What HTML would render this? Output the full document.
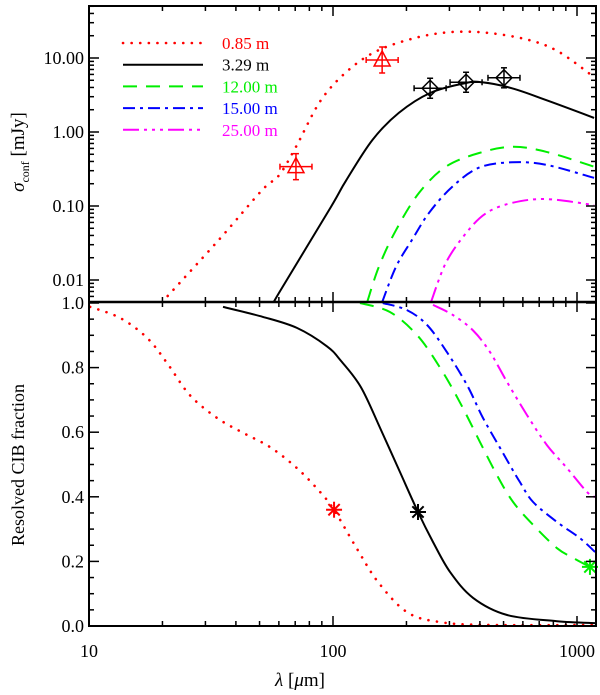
<!DOCTYPE html>
<html><head><meta charset="utf-8"><style>
body{margin:0;background:#fff}
svg{display:block;font-family:"Liberation Serif",serif}
</style></head><body>
<svg id="chart" width="600" height="695" viewBox="0 0 600 695" xmlns="http://www.w3.org/2000/svg">
<defs>
<clipPath id="clipTop"><rect x="89" y="6" width="507" height="296"/></clipPath>
<clipPath id="clipBot"><rect x="89" y="302" width="507" height="324"/></clipPath>
</defs>
<g id="gTop"></g>
<g id="gBot"></g>
<g id="gAxes"></g>
<g id="legend"></g>
<text x="300" y="686" font-size="19" text-anchor="middle"><tspan font-style="italic">λ</tspan> [<tspan font-style="italic">μ</tspan>m]</text>
<text transform="translate(24,152) rotate(-90)" font-size="19" text-anchor="middle"><tspan font-style="italic">σ</tspan><tspan font-size="12" dy="5">conf</tspan><tspan dy="-5"> [mJy]</tspan></text>
<text transform="translate(24,465) rotate(-90)" font-size="18" text-anchor="middle">Resolved CIB fraction</text>
</svg>
<script>
// ---- data ----
const seriesLabels = ["0.85 m","3.29 m","12.00 m","15.00 m","25.00 m"];
const seriesColors = ["#ff0000","#000000","#00ee00","#0000ff","#ff00ff"];
const seriesDash = ["0.1 8.5","","14 9","12 5 3 5","16 5 3 5 3 5 3 5"];
// top panel: sigma_conf [mJy]
const redTopL = [19.9,34.1,51.2,60.1,70.5,89.3,116,154,225,313,436,635,844,1185];
const redTopV = [0.005,0.035,0.164,0.26,0.63,2.7,6.9,12.8,19.2,22.5,21.8,17.5,12.1,5.4];
const blackTopL = [57.3,60.1,98,113,145,186,250,351,408,542,747,1175];
const blackTopV = [0.005,0.0067,0.097,0.22,0.78,1.81,3.37,4.6,4.7,3.9,2.7,1.55];
const greenTopL = [138,154,181,225,290,397,542,747,1175];
const greenTopV = [0.005,0.015,0.047,0.15,0.34,0.52,0.63,0.54,0.34];
const blueTopL = [159,181,211,247,307,397,542,747,1175];
const blueTopV = [0.005,0.015,0.035,0.080,0.18,0.33,0.39,0.36,0.24];
const magTopL = [252,290,351,424,542,747,1175];
const magTopV = [0.005,0.017,0.043,0.080,0.11,0.124,0.103];
// measurements
const triL = [70.5,159];
const triV = [0.34,9.4];
const diaL = [250,351,502];
const diaV = [3.9,4.7,5.4];
// bottom panel: resolved fraction
const redBotL = [10.1,13.4,17.3,20.9,25.9,33.5,42.8,55.2,71.1,88.5,101,125,153,201,275,440,1185];
const redBotF = [0.988,0.954,0.892,0.814,0.715,0.644,0.598,0.554,0.489,0.415,0.359,0.241,0.136,0.043,0.012,0.003,0.003];
const blackBotL = [35.4,51.6,71.1,94.4,108,130,156,188,223,257,302,375,517,828,1186];
const blackBotF = [0.988,0.957,0.923,0.866,0.820,0.740,0.613,0.477,0.353,0.260,0.167,0.087,0.034,0.015,0.009];
const greenBotL = [129,171,221,275,331,400,470,547,661,828,963,1130];
const greenBotF = [1.0,0.972,0.901,0.799,0.693,0.570,0.467,0.384,0.313,0.241,0.211,0.183];
const blueBotL = [160,201,243,293,354,412,484,583,661,828,1028,1186];
const blueBotF = [1.0,0.978,0.932,0.848,0.746,0.644,0.551,0.446,0.384,0.322,0.272,0.229];
const magBotL = [257,310,375,440,517,624,753,910,1099,1186];
const magBotF = [0.994,0.963,0.915,0.848,0.755,0.653,0.560,0.489,0.415,0.399];
const starL = [101,223,1130];
const starF = [0.36,0.353,0.183];
const starColors = ["#ff0000","#000000","#00ee00"];
const topTicks = [0.01,0.1,1,10];
const topTickLabels = ["0.01","0.10","1.00","10.00"];
const botTicks = [0,0.2,0.4,0.6,0.8,1.0];
const botTickLabels = ["0.0","0.2","0.4","0.6","0.8","1.0"];
const xTicks = [10,100,1000];
const xTickLabels = ["10","100","1000"];

// ---- scales ----
const L=89,R=596,T1=6,B1=302,T2=302,B2=626;
const X = l => L + 244*Math.log10(l/10);
const YT = v => 132 - 74*Math.log10(v);
const YB = f => 626 - 323*f;
const NS="http://www.w3.org/2000/svg";
function mk(tag, attrs, parent){const e=document.createElementNS(NS,tag);for(const k in attrs)e.setAttribute(k,attrs[k]);parent.appendChild(e);return e;}
function smooth(pts){
  let d="M"+pts[0][0].toFixed(1)+","+pts[0][1].toFixed(1);
  for(let i=0;i<pts.length-1;i++){
    const p0=pts[Math.max(i-1,0)],p1=pts[i],p2=pts[i+1],p3=pts[Math.min(i+2,pts.length-1)];
    const c1=[p1[0]+(p2[0]-p0[0])/6,p1[1]+(p2[1]-p0[1])/6];
    const c2=[p2[0]-(p3[0]-p1[0])/6,p2[1]-(p3[1]-p1[1])/6];
    d+=" C"+c1.map(v=>v.toFixed(1))+" "+c2.map(v=>v.toFixed(1))+" "+p2[0].toFixed(1)+","+p2[1].toFixed(1);
  }
  return d;
}
const gTop=document.getElementById('gTop'), gBot=document.getElementById('gBot'), gAx=document.getElementById('gAxes'), gLeg=document.getElementById('legend');
const cTop=mk('g',{'clip-path':'url(#clipTop)'},gTop);
const cBot=mk('g',{'clip-path':'url(#clipBot)'},gBot);
const topSets=[[redTopL,redTopV],[blackTopL,blackTopV],[greenTopL,greenTopV],[blueTopL,blueTopV],[magTopL,magTopV]];
const botSets=[[redBotL,redBotF],[blackBotL,blackBotF],[greenBotL,greenBotF],[blueBotL,blueBotF],[magBotL,magBotF]];
const names=["red","black","green","blue","magenta"];
function style(i){return {fill:'none',stroke:seriesColors[i],'stroke-width':i==0?2.6:2,'stroke-dasharray':seriesDash[i],'stroke-linecap':i==0?'round':'butt'};}
topSets.forEach((s,i)=>{
  const a=style(i); a.d=smooth(s[0].map((l,j)=>[X(l),YT(s[1][j])]));
  const p=mk('path',a,cTop);
  
  
});
botSets.forEach((s,i)=>{
  const a=style(i); a.d=smooth(s[0].map((l,j)=>[X(l),YB(s[1][j])]));
  const p=mk('path',a,cBot);
  
  
});
function errbar(x,y,dx,dyU,dyD,col,parent){
  mk('line',{x1:x-dx,y1:y,x2:x+dx,y2:y,stroke:col,'stroke-width':1.5},parent);
  mk('line',{x1:x-dx,y1:y-3,x2:x-dx,y2:y+3,stroke:col,'stroke-width':1.5},parent);
  mk('line',{x1:x+dx,y1:y-3,x2:x+dx,y2:y+3,stroke:col,'stroke-width':1.5},parent);
  mk('line',{x1:x,y1:y-dyU,x2:x,y2:y+dyD,stroke:col,'stroke-width':1.5},parent);
  mk('line',{x1:x-3,y1:y-dyU,x2:x+3,y2:y-dyU,stroke:col,'stroke-width':1.5},parent);
  mk('line',{x1:x-3,y1:y+dyD,x2:x+3,y2:y+dyD,stroke:col,'stroke-width':1.5},parent);
}
triL.forEach((l,i)=>{
  const x=X(l),y=YT(triV[i]);
  const g=mk('g',{},gTop);
  
  
  errbar(x,y,16,13,13,'#ff0000',g);
  mk('polygon',{points:`${x},${y-9} ${x-8},${y+6} ${x+8},${y+6}`,fill:'none',stroke:'#ff0000','stroke-width':1.5},g);
});
diaL.forEach((l,i)=>{
  const x=X(l),y=YT(diaV[i]);
  const g=mk('g',{},gTop);
  
  
  errbar(x,y,16,10,10,'#000000',g);
  mk('polygon',{points:`${x},${y-8} ${x+8},${y} ${x},${y+8} ${x-8},${y}`,fill:'none',stroke:'#000','stroke-width':1.5},g);
});
starL.forEach((l,i)=>{
  const x=X(l),y=YB(starF[i]);
  const g=mk('g',{stroke:starColors[i],'stroke-width':2},gBot);
  
  
  for(let a=0;a<180;a+=45){const r=a*Math.PI/180;mk('line',{x1:x-8*Math.cos(r),y1:y-8*Math.sin(r),x2:x+8*Math.cos(r),y2:y+8*Math.sin(r)},g);}
});
mk('rect',{x:L,y:T1,width:R-L,height:B2-T1,fill:'none',stroke:'#000','stroke-width':2},gAx);
mk('line',{x1:L,y1:B1,x2:R,y2:B1,stroke:'#000','stroke-width':2.5},gAx);
const tk=(x1,y1,x2,y2)=>mk('line',{x1,y1,x2,y2,stroke:'#000','stroke-width':1.5},gAx);
for(let dec=10;dec<=1000;dec*=10){for(let m=1;m<10;m++){const l=dec*m;if(l>1200)break;const x=X(l);const len=m==1?10:5;
  tk(x,T1,x,T1+len);tk(x,B1,x,B1-len);tk(x,B1,x,B1+len);tk(x,B2,x,B2-len);}}
xTicks.forEach((l,i)=>{const t=mk('text',{x:X(l),y:657,'font-size':18,'text-anchor':'middle'},gAx);t.textContent=xTickLabels[i];
  
  });
for(let dec=0.001;dec<=10;dec*=10){for(let m=1;m<10;m++){const v=dec*m;const y=YT(v);if(y<T1||y>B1)continue;const len=m==1?10:5;tk(L,y,L+len,y);tk(R,y,R-len,y);}}
topTicks.forEach((v,i)=>{const t=mk('text',{x:84,y:YT(v)+6,'font-size':18,'text-anchor':'end'},gAx);t.textContent=topTickLabels[i];
  
  });
for(let k=0;k<=20;k++){const f=k*0.05;const y=YB(f);const len=k%4==0?10:5;tk(L,y,L+len,y);tk(R,y,R-len,y);}
botTicks.forEach((v,i)=>{const t=mk('text',{x:84,y:YB(v)+6,'font-size':18,'text-anchor':'end'},gAx);t.textContent=botTickLabels[i];
  
  });
seriesLabels.forEach((s,i)=>{
  const y=43+i*21.7;
  const g=mk('g',{},gLeg);
  
  
  const a=style(i); a.x1=123;a.y1=y;a.x2=203;a.y2=y;
  mk('line',a,g);
  const t=mk('text',{x:222,y:y+6,'font-size':17,fill:seriesColors[i]},g);t.textContent=s;
});
</script>
</body></html>
